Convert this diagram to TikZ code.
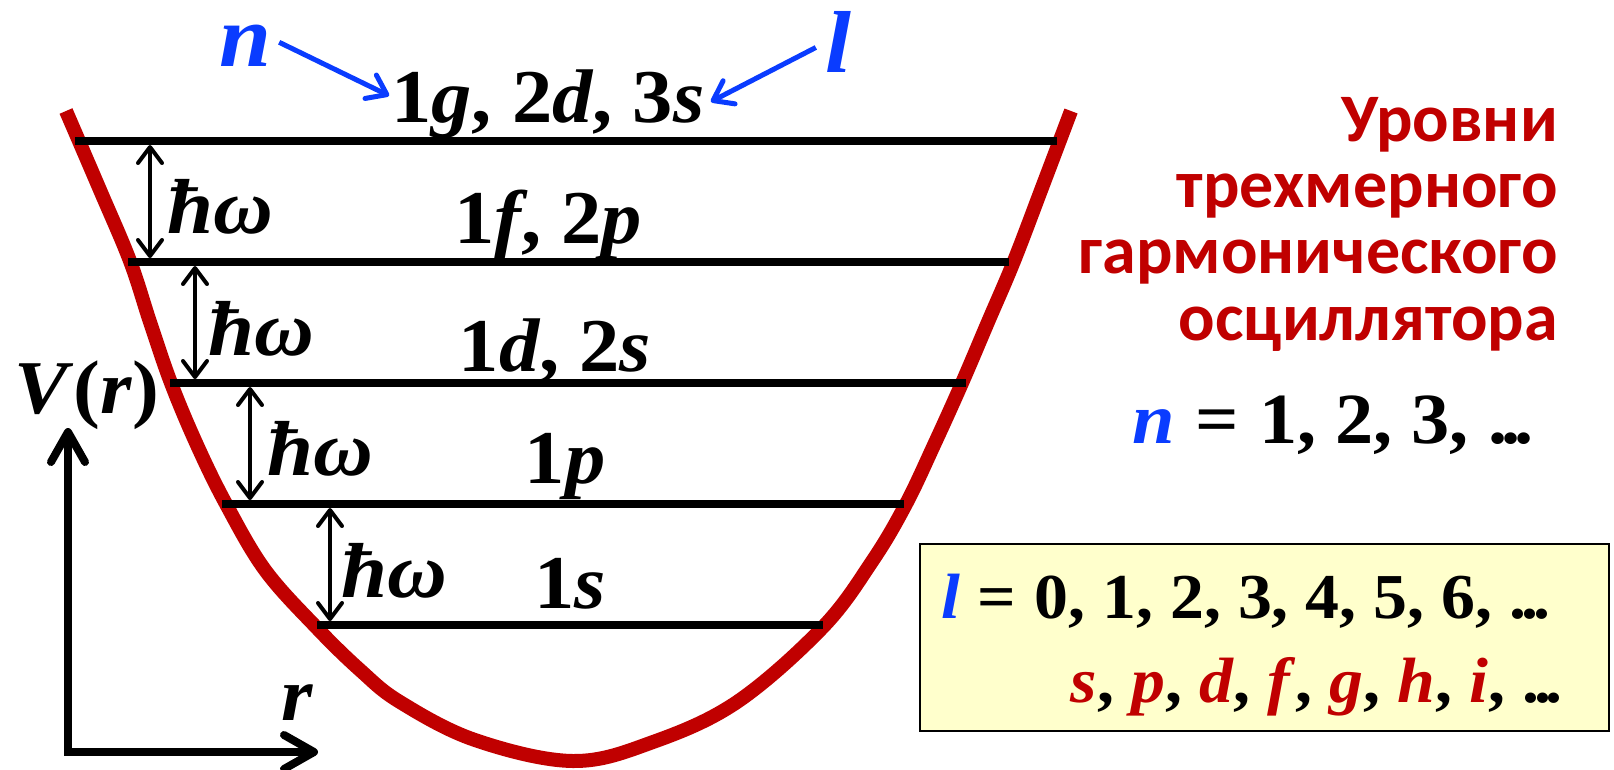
\documentclass[tikz,border=0pt]{standalone}
\usepackage{fontspec}
\setmainfont{Carlito}
\newfontfamily\mf[FakeStretch=1.06]{Liberation Serif}
\usetikzlibrary{arrows.meta}
\definecolor{myred}{RGB}{192,0,0}
\definecolor{myblue}{RGB}{10,60,255}
\definecolor{boxfill}{RGB}{255,255,204}
\newcommand{\mfs}[1]{\mf\bfseries\fontsize{#1}{#1}\selectfont}
\newcommand{\dts}{.\kern-0.08em.\kern-0.08em.}
\begin{document}
\begin{tikzpicture}[x=1pt,y=-1pt,
  lvl/.style={line width=8pt},
  hwarrow/.style={line width=4pt,{Straight Barb[length=16pt,width=24pt,round]}-{Straight Barb[length=16pt,width=24pt,round]},shorten <=4pt,shorten >=4pt},
  axisline/.style={line width=8pt,{Straight Barb[length=30pt,width=34pt,round]}-{Straight Barb[length=30pt,width=34pt,round]}},
  bluearrow/.style={myblue,line width=5pt,-{Straight Barb[length=18pt,width=26pt,round]}},
  lvllabel/.style={font=\mfs{76},inner sep=0pt,anchor=base},
  hwlabel/.style={font=\mfs{78},inner sep=0pt,anchor=base},
  bluelabel/.style={font=\mfs{88},text=myblue,inner sep=0pt,anchor=base},
  redtitle/.style={font=\bfseries\fontsize{68}{68}\selectfont,text=myred,inner sep=0pt,anchor=base east},
  ]
\useasboundingbox (0,0) rectangle (1614,769);
% potential curve
\draw[myred,line width=14pt] plot[smooth,tension=0.6] coordinates {
 (66,111) (100,190) (130,261) (150,322) (171,383) (197,445) (226,504)
 (265,570) (316,627) (360,670) (400,702) (475,740) (573,761) (653,742)
 (737,702) (823,627) (873,560) (906,504) (934,445) (962,383) (988,322)
 (1014,261) (1043,185) (1071,111)};
% levels
\coordinate (L1a) at (75,141);  \coordinate (L1b) at (1057,141);
\coordinate (L2a) at (128,262); \coordinate (L2b) at (1009,262);
\coordinate (L3a) at (170,383); \coordinate (L3b) at (966,383);
\coordinate (L4a) at (222,504); \coordinate (L4b) at (904,504);
\coordinate (L5a) at (317,625); \coordinate (L5b) at (823,625);
\draw[lvl] (L1a) -- (L1b);
\draw[lvl] (L2a) -- (L2b);
\draw[lvl] (L3a) -- (L3b);
\draw[lvl] (L4a) -- (L4b);
\draw[lvl] (L5a) -- (L5b);
% hbar omega arrows
\coordinate (A1t) at (150,141); \coordinate (A1b) at (150,262);
\coordinate (A2t) at (195,262); \coordinate (A2b) at (195,383);
\coordinate (A3t) at (250,383); \coordinate (A3b) at (250,504);
\coordinate (A4t) at (330,504); \coordinate (A4b) at (330,625);
\draw[hwarrow] (A1t) -- (A1b);
\draw[hwarrow] (A2t) -- (A2b);
\draw[hwarrow] (A3t) -- (A3b);
\draw[hwarrow] (A4t) -- (A4b);
\node[hwlabel] (hw1) at (220,233) {\textit{ħω}};
\node[hwlabel] (hw2) at (261,355) {\textit{ħω}};
\node[hwlabel] (hw3) at (320,475) {\textit{ħω}};
\node[hwlabel] (hw4) at (394,597) {\textit{ħω}};
% level labels
\node[lvllabel] (lab1) at (548,122) {1\textit{g}, 2\textit{d}, 3\textit{s}};
\node[lvllabel] (lab2) at (548,243) {1\textit{f}, 2\textit{p}};
\node[lvllabel] (lab3) at (555,371) {1\textit{d}, 2\textit{s}};
\node[lvllabel] (lab4) at (565,483) {1\textit{p}};
\node[lvllabel] (lab5) at (570,608) {1\textit{s}};
% n and l pointers
\node[bluelabel] (nn) at (245,66) {\textit{n}};
\node[bluelabel] (ll) at (838,72) {\textit{l}};
\draw[bluearrow] ([xshift=8pt,yshift=3pt]nn.east) -- ([xshift=-2pt,yshift=8pt]lab1.west);
\draw[bluearrow] ([xshift=-9pt,yshift=-6pt]ll.west) -- ([xshift=6pt,yshift=2pt]lab1.east);
% axes
\coordinate (O) at (68,752);
\coordinate (Ytip) at (68,428);
\coordinate (Xtip) at (318,752);
\draw[axisline] (Ytip) -- (O) -- (Xtip);
\node[lvllabel] (Vr) at (87,413) {\textit{V}(\textit{r})};
\node[lvllabel] (rr) at (297,720) {\textit{r}};
% title
\node[redtitle] (t1) at (1558,141) {Уровни};
\node[redtitle] (t2) at (1558,207) {трехмерного};
\node[redtitle] (t3) at (1558,273) {гармонического};
\node[redtitle] (t4) at (1558,340) {осциллятора};
\node[font=\mfs{72},inner sep=0pt,anchor=base east] (nvals) at (1534,443)
  {\textcolor{myblue}{\textit{n}}\hspace{0.28em}=\hspace{0.28em}1, 2, 3, \dts};
% l box
\node[draw=black,line width=2pt,fill=boxfill,minimum width=689pt,minimum height=187pt,inner sep=0pt,anchor=north west] (box) at (919,543) {};
\node[font=\mfs{64},inner sep=0pt,anchor=base west] (lvals) at (941,618)
  {\textcolor{myblue}{\textit{l}}\hspace{0.28em}=\hspace{0.28em}0, 1, 2, 3, 4, 5, 6, \dts};
\node[font=\mfs{64},inner sep=0pt,anchor=base east] (letters) at (1563,702)
  {\textcolor{myred}{\textit{s}}, \textcolor{myred}{\textit{p}}, \textcolor{myred}{\textit{d}}, \textcolor{myred}{\textit{f}}, \textcolor{myred}{\textit{g}}, \textcolor{myred}{\textit{h}}, \textcolor{myred}{\textit{i}}, \dts};
\end{tikzpicture}
\end{document}
